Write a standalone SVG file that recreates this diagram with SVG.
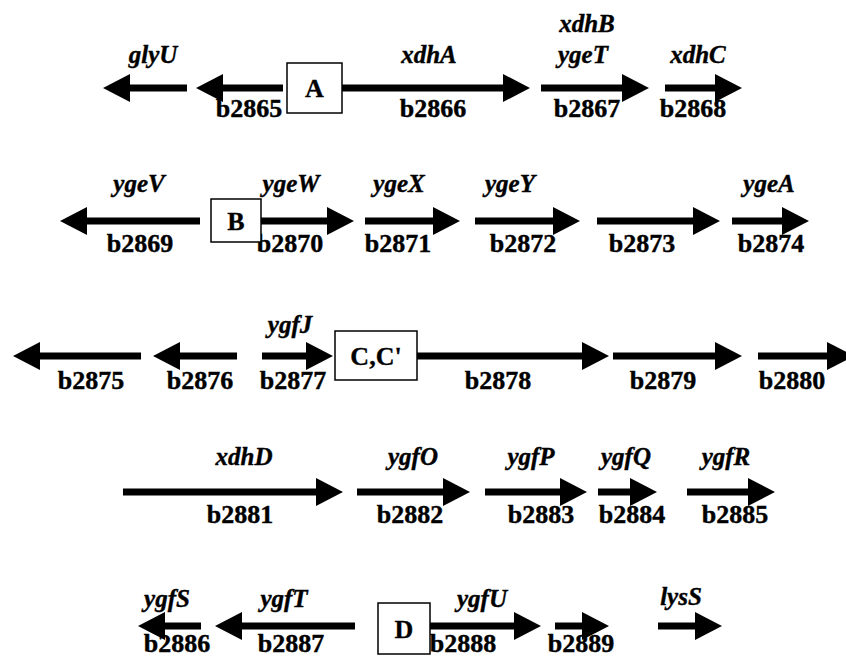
<svg xmlns="http://www.w3.org/2000/svg" width="846" height="657" viewBox="0 0 846 657">
  <defs>
    <marker id="head" markerUnits="userSpaceOnUse" markerWidth="27" markerHeight="28" refX="0" refY="14" orient="auto" viewBox="0 0 27 28">
      <path d="M0,0 L27,14 L0,28 z" fill="#000"/>
    </marker>
  </defs>
  <style>
    .gene { stroke: #000; stroke-width: 7; fill: none; marker-end: url(#head); }
    .name { font-family: "Liberation Serif", "Times New Roman", serif; font-style: italic; font-weight: bold; font-size: 25px; text-anchor: middle; fill: #000; stroke: #000; stroke-width: 0.4; }
    .bnum { font-family: "Liberation Serif", "Times New Roman", serif; font-weight: bold; font-size: 26px; text-anchor: middle; fill: #000; stroke: #000; stroke-width: 0.4; }
    .site rect { fill: #fff; stroke: #000; stroke-width: 1.5; }
    .site text { font-family: "Liberation Serif", "Times New Roman", serif; font-weight: bold; font-size: 26px; text-anchor: middle; fill: #000; stroke: #000; stroke-width: 0.3; }
  </style>
  <rect width="846" height="657" fill="#fff"/>

  <!-- gene labels -->
  <g id="labels">
    <!-- row 1 -->
    <text class="name" x="153" y="63">glyU</text>
    <text class="bnum" x="249" y="117">b2865</text>
    <text class="name" x="429" y="63">xdhA</text>
    <text class="bnum" x="433" y="117">b2866</text>
    <text class="name" x="587" y="32">xdhB</text>
    <text class="name" x="583" y="63">ygeT</text>
    <text class="bnum" x="587" y="117">b2867</text>
    <text class="name" x="698" y="63">xdhC</text>
    <text class="bnum" x="693" y="117">b2868</text>
    <!-- row 2 -->
    <text class="name" x="139" y="192">ygeV</text>
    <text class="bnum" x="140" y="252">b2869</text>
    <text class="name" x="291" y="192">ygeW</text>
    <text class="bnum" x="290" y="252">b2870</text>
    <text class="name" x="399" y="192">ygeX</text>
    <text class="bnum" x="398" y="252">b2871</text>
    <text class="name" x="510" y="192">ygeY</text>
    <text class="bnum" x="523" y="252">b2872</text>
    <text class="bnum" x="642" y="252">b2873</text>
    <text class="name" x="769" y="192">ygeA</text>
    <text class="bnum" x="771" y="252">b2874</text>
    <!-- row 3 -->
    <text class="bnum" x="91" y="389">b2875</text>
    <text class="bnum" x="200" y="389">b2876</text>
    <text class="name" x="290" y="333">ygfJ</text>
    <text class="bnum" x="293" y="389">b2877</text>
    <text class="bnum" x="498" y="389">b2878</text>
    <text class="bnum" x="663" y="389">b2879</text>
    <text class="bnum" x="792" y="389">b2880</text>
    <!-- row 4 -->
    <text class="name" x="244" y="465">xdhD</text>
    <text class="bnum" x="240" y="523">b2881</text>
    <text class="name" x="413" y="465">ygfO</text>
    <text class="bnum" x="410" y="523">b2882</text>
    <text class="name" x="531" y="465">ygfP</text>
    <text class="bnum" x="541" y="523">b2883</text>
    <text class="name" x="626" y="465">ygfQ</text>
    <text class="bnum" x="632" y="523">b2884</text>
    <text class="name" x="726" y="465">ygfR</text>
    <text class="bnum" x="735" y="523">b2885</text>
    <!-- row 5 -->
    <text class="name" x="167" y="607">ygfS</text>
    <text class="bnum" x="177" y="652">b2886</text>
    <text class="name" x="284" y="607">ygfT</text>
    <text class="bnum" x="291" y="652">b2887</text>
    <text class="name" x="482" y="607">ygfU</text>
    <text class="bnum" x="463" y="652">b2888</text>
    <text class="bnum" x="581" y="652">b2889</text>
    <text class="name" x="681" y="605">lysS</text>
  </g>

  <!-- gene arrows (drawn from tail to the base of the head) -->
  <g id="connectors">
    <line id="glyU" class="gene" x1="187" y1="88" x2="130" y2="88"/>
    <line id="g2865" class="gene" x1="283" y1="88" x2="223" y2="88"/>
    <line id="g2866" class="gene" x1="342" y1="88" x2="503" y2="88"/>
    <line id="g2867" class="gene" x1="541" y1="88" x2="622" y2="88"/>
    <line id="g2868" class="gene" x1="665" y1="88" x2="715" y2="88"/>

    <line id="g2869" class="gene" x1="200" y1="221" x2="87" y2="221"/>
    <line id="g2870" class="gene" x1="261" y1="221" x2="327" y2="221"/>
    <line id="g2871" class="gene" x1="365" y1="221" x2="433" y2="221"/>
    <line id="g2872" class="gene" x1="475" y1="221" x2="553" y2="221"/>
    <line id="g2873" class="gene" x1="597" y1="221" x2="693" y2="221"/>
    <line id="g2874" class="gene" x1="732" y1="221" x2="782" y2="221"/>

    <line id="g2875" class="gene" x1="141" y1="356" x2="40" y2="356"/>
    <line id="g2876" class="gene" x1="237" y1="356" x2="180" y2="356"/>
    <line id="g2877" class="gene" x1="262" y1="356" x2="306" y2="356"/>
    <line id="g2878" class="gene" x1="417" y1="356" x2="582" y2="356"/>
    <line id="g2879" class="gene" x1="613" y1="356" x2="715" y2="356"/>
    <line id="g2880" class="gene" x1="758" y1="356" x2="827" y2="356"/>

    <line id="g2881" class="gene" x1="123" y1="492" x2="316" y2="492"/>
    <line id="g2882" class="gene" x1="357" y1="492" x2="443" y2="492"/>
    <line id="g2883" class="gene" x1="485" y1="492" x2="560" y2="492"/>
    <line id="g2884" class="gene" x1="598" y1="492" x2="630" y2="492"/>
    <line id="g2885" class="gene" x1="687" y1="492" x2="748" y2="492"/>

    <line id="g2886" class="gene" x1="201" y1="626" x2="165" y2="626"/>
    <line id="g2887" class="gene" x1="355" y1="626" x2="242" y2="626"/>
    <line id="g2888" class="gene" x1="430" y1="626" x2="514" y2="626"/>
    <line id="g2889" class="gene" x1="555" y1="626" x2="582" y2="626"/>
    <line id="lysS" class="gene" x1="658" y1="626" x2="695" y2="626"/>
  </g>

  <!-- binding-site boxes -->
  <g id="siteA" class="site">
    <rect x="287" y="63" width="55" height="50"/>
    <text x="314.5" y="97">A</text>
  </g>
  <g id="siteB" class="site">
    <rect x="211" y="199" width="50" height="43"/>
    <text x="236" y="230">B</text>
  </g>
  <g id="siteC" class="site">
    <rect x="335" y="331" width="82" height="49"/>
    <text x="376" y="365">C,C'</text>
  </g>
  <g id="siteD" class="site">
    <rect x="378" y="603" width="52" height="51"/>
    <text x="404" y="638">D</text>
  </g>
</svg>
